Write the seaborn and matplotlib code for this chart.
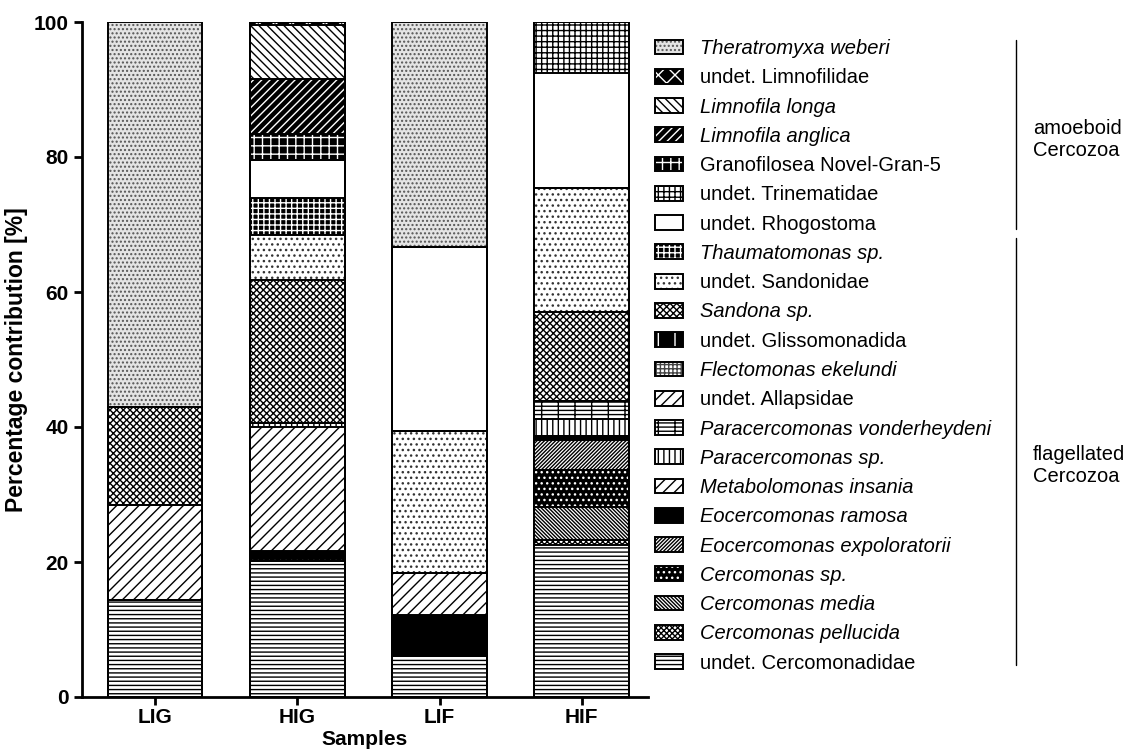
import numpy as np
import pandas as pd
import matplotlib
matplotlib.use("Agg")
import matplotlib.pyplot as plt
import matplotlib.patches as mpatches
from matplotlib.lines import Line2D
from matplotlib.legend_handler import HandlerTuple
import seaborn as sns

# Samples on the x axis
samples = ["LIG", "HIG", "LIF", "HIF"]

# Taxa in stacking order, bottom to top
taxa = [
    "undet. Cercomonadidae",
    "Cercomonas pellucida",
    "Cercomonas media",
    "Cercomonas sp.",
    "Eocercomonas expoloratorii",
    "Eocercomonas ramosa",
    "Metabolomonas insania",
    "Paracercomonas sp.",
    "Paracercomonas vonderheydeni",
    "undet. Allapsidae",
    "Flectomonas ekelundi",
    "undet. Glissomonadida",
    "Sandona sp.",
    "undet. Sandonidae",
    "Thaumatomonas sp.",
    "undet. Rhogostoma",
    "undet. Trinematidae",
    "Granofilosea Novel-Gran-5",
    "Limnofila anglica",
    "Limnofila longa",
    "undet. Limnofilidae",
    "Theratromyxa weberi",
]

# Percentage contribution of each taxon per sample (same order as taxa)
lig = [14.3, 0, 0, 0, 0, 0, 14.2, 0, 0, 0, 0, 0, 14.4, 0, 0, 0, 0, 0, 0, 0, 0, 57.1]
hig = [20.2, 0, 0, 0.6, 0, 0.8, 18.4, 0.6, 0, 0, 0, 0, 21.2, 6.6, 5.5, 5.7, 0, 3.8, 8.2, 8.0, 0.4, 0]
lif = [6.1, 0, 0, 0, 0, 6.0, 6.2, 0, 0, 0, 0, 0, 0, 21.1, 0, 27.2, 0, 0, 0, 0, 0, 33.4]
hif = [22.5, 0.8, 4.9, 5.5, 4.4, 0.6, 0, 2.5, 2.7, 0, 0, 0, 13.1, 18.4, 0, 17.0, 7.6, 0, 0, 0, 0, 0]

# Fill colour, hatch pattern and hatch colour for every taxon
fill_style = {
    "undet. Cercomonadidae": ("white", "----", "black"),
    "Cercomonas pellucida": ("white", "xxxxxx", "black"),
    "Cercomonas media": ("white", "\\" * 9, "black"),
    "Cercomonas sp.": ("black", "...", "white"),
    "Eocercomonas expoloratorii": ("white", "/" * 9, "black"),
    "Eocercomonas ramosa": ("black", "", "black"),
    "Metabolomonas insania": ("white", "///", "black"),
    "Paracercomonas sp.": ("white", "|||", "black"),
    "Paracercomonas vonderheydeni": ("white", "----|", "black"),
    "undet. Allapsidae": ("white", "///", "black"),
    "Flectomonas ekelundi": ("white", "++++", "#444444"),
    "undet. Glissomonadida": ("black", "|", "white"),
    "Sandona sp.": ("white", "xxxxx", "black"),
    "undet. Sandonidae": ("white", "...", "#333333"),
    "Thaumatomonas sp.": ("black", "+++", "white"),
    "undet. Rhogostoma": ("white", "", "black"),
    "undet. Trinematidae": ("white", "+++", "black"),
    "Granofilosea Novel-Gran-5": ("black", "++", "white"),
    "Limnofila anglica": ("black", "////", "white"),
    "Limnofila longa": ("white", "\\" * 4, "black"),
    "undet. Limnofilidae": ("black", "xx", "white"),
    "Theratromyxa weberi": ("#e4e4e4", "....", "#555555"),
}

sns.set_style("ticks")
plt.rcParams["font.family"] = ["Liberation Sans", "DejaVu Sans"]
plt.rcParams.update({
    "hatch.linewidth": 1.0,
    "text.color": "black",
    "axes.labelcolor": "black",
    "axes.edgecolor": "black",
    "xtick.color": "black",
    "ytick.color": "black",
})

values = pd.DataFrame({"LIG": lig, "HIG": hig, "LIF": lif, "HIF": hif}, index=taxa)
tops = values.cumsum(axis=0)

fig = plt.figure(figsize=(11.39, 7.54), dpi=100)
ax = fig.add_axes([82 / 1139, 57 / 754, (648 - 82) / 1139, (697 - 22) / 754])

bar_w = 0.667
edge_lw = 1.4

# Filled, hatched segments: draw cumulative bars from the top taxon downwards
for taxon in reversed(taxa):
    face, hatch, hcol = fill_style[taxon]
    d = pd.DataFrame({"sample": samples, "top": tops.loc[taxon, samples].values})
    sns.barplot(data=d, x="sample", y="top", order=samples, ax=ax,
                color=face, saturation=1, width=bar_w, errorbar=None,
                facecolor=face, edgecolor=hcol, hatch=hatch, linewidth=0)

# Segment outlines
for taxon in taxa:
    d = pd.DataFrame({"sample": samples, "top": tops.loc[taxon, samples].values})
    sns.barplot(data=d, x="sample", y="top", order=samples, ax=ax,
                color="white", saturation=1, width=bar_w, errorbar=None,
                facecolor="none", edgecolor="black", linewidth=edge_lw)

ax.set_xlim(-0.513, 3.465)
ax.set_ylim(0, 100)
ax.set_yticks([0, 20, 40, 60, 80, 100])
sns.despine(ax=ax)
for s in ("left", "bottom"):
    ax.spines[s].set_linewidth(2)
ax.tick_params(axis="both", direction="out", length=6, width=2, labelsize=15)
ax.tick_params(axis="x", pad=2)
for lab in ax.get_xticklabels() + ax.get_yticklabels():
    lab.set_fontweight("bold")
ax.set_xlabel("Samples", fontsize=15, fontweight="bold", labelpad=2)
ax.set_ylabel("Percentage contribution [%]", fontsize=16.5, fontweight="bold", labelpad=4)

# Legend, top taxon first
handles, labels = [], []
for taxon in reversed(taxa):
    face, hatch, hcol = fill_style[taxon]
    fillp = mpatches.Patch(facecolor=face, edgecolor=hcol, hatch=hatch, linewidth=0)
    rim = mpatches.Patch(facecolor="none", edgecolor="black", linewidth=edge_lw)
    handles.append((fillp, rim))
    labels.append(taxon)

leg = fig.legend(handles, labels, handler_map={tuple: HandlerTuple(ndivide=1, pad=0)},
                 loc="upper left", bbox_to_anchor=(655 / 1139, 1 - 39 / 754),
                 frameon=False, fontsize=14.5, handlelength=1.4, handleheight=0.75,
                 handletextpad=0.85, labelspacing=0.51, borderpad=0, borderaxespad=0)
for txt in leg.get_texts():
    t = txt.get_text()
    if not (t.startswith("undet.") or t.startswith("Granofilosea")):
        txt.set_fontstyle("italic")

# Group brackets
fig.add_artist(Line2D([1016 / 1139] * 2, [1 - 40 / 754, 1 - 229 / 754],
                      transform=fig.transFigure, color="black", lw=1))
fig.add_artist(Line2D([1016 / 1139] * 2, [1 - 238 / 754, 1 - 665 / 754],
                      transform=fig.transFigure, color="black", lw=1))
fig.text(1033 / 1139, 1 - 140 / 754, "amoeboid\nCercozoa", fontsize=14.5,
         ha="left", va="center")
fig.text(1033 / 1139, 1 - 465 / 754, "flagellated\nCercozoa", fontsize=14.5,
         ha="left", va="center")

fig.savefig("out.png", dpi=100)
